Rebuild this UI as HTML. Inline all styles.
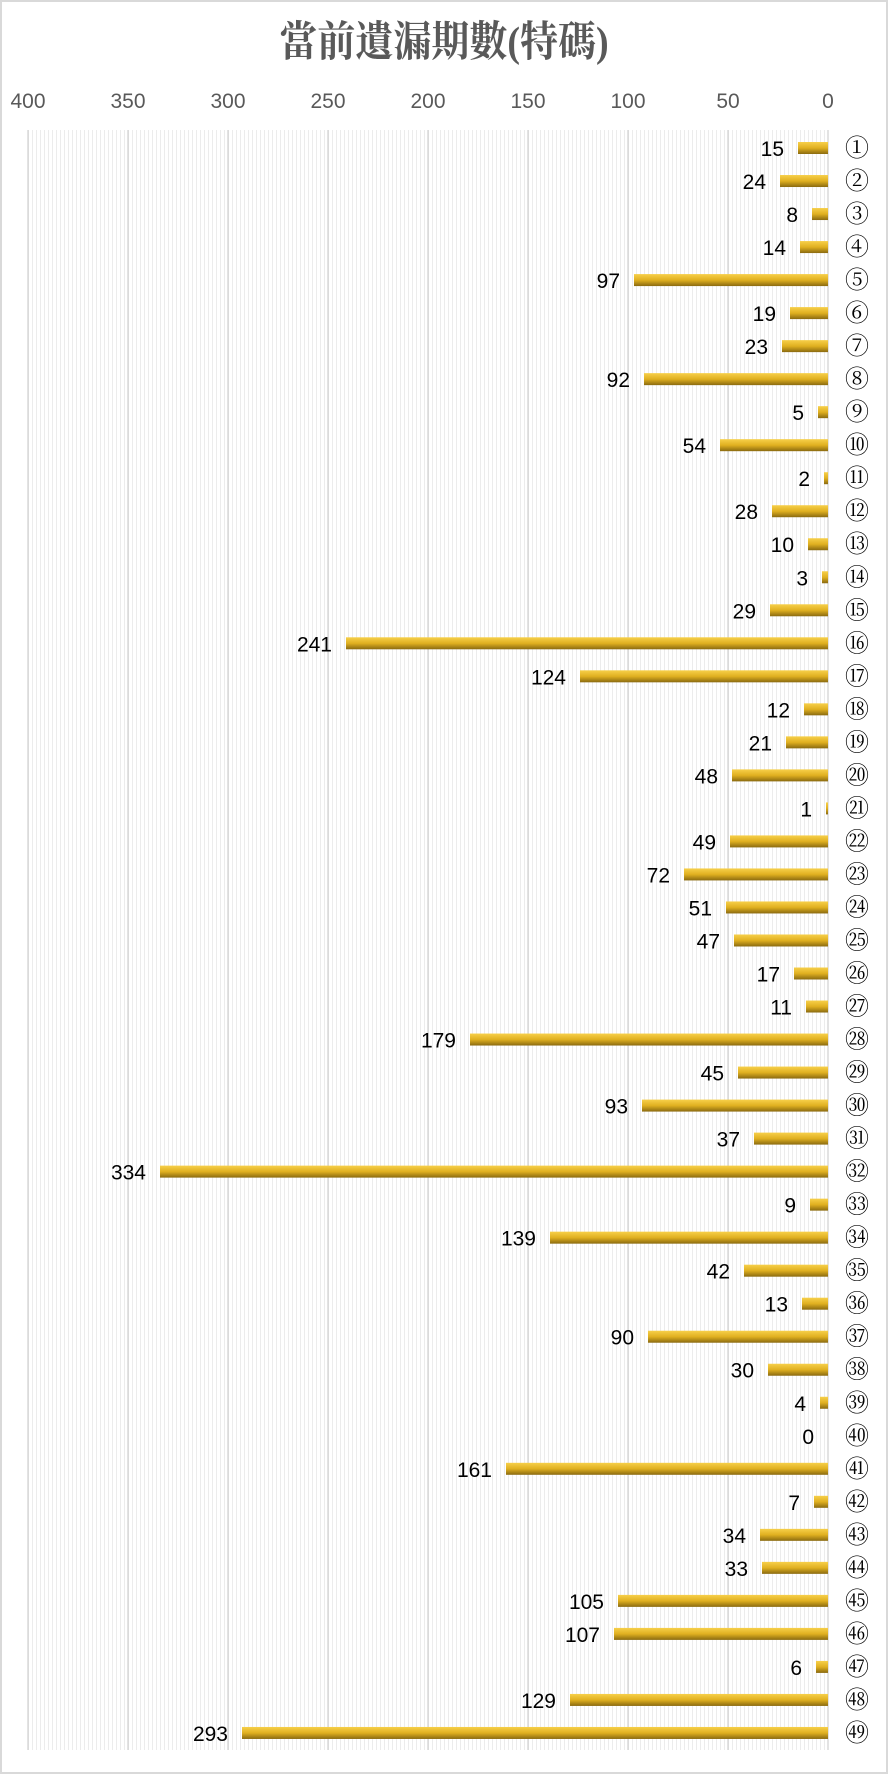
<!DOCTYPE html>
<html><head><meta charset="utf-8"><style>
body{margin:0;background:#fff}
svg{display:block}
</style></head><body>
<svg width="888" height="1774" xmlns="http://www.w3.org/2000/svg">
<defs>
<linearGradient id="g" x1="0" y1="0" x2="0" y2="1">
<stop offset="0" stop-color="#f7d04a"/><stop offset="0.5" stop-color="#e0b020"/><stop offset="1" stop-color="#8a6a10"/>
</linearGradient>
<pattern id="p" width="4" height="10" patternUnits="userSpaceOnUse">
<rect width="4" height="10" fill="#fff"/><rect width="1" height="10" fill="#ececec"/>
</pattern>
</defs>
<rect x="1" y="1" width="886" height="1772" fill="#fff" stroke="#d9d9d9" stroke-width="2"/>
<text x="444" y="54" text-anchor="middle" font-family="'Liberation Serif','Noto Serif CJK SC',serif" font-weight="bold" font-size="38" fill="#595959" transform="translate(444 0) scale(1 1.1) translate(-444 -3)">當前遺漏期數(特碼)</text>
<rect x="28" y="130" width="800" height="1620" fill="url(#p)"/>
<g stroke="#d0d0d0" stroke-width="1.2" id="grid"></g>
<g id="ticks" font-family="'Liberation Sans',sans-serif" font-size="21" fill="#595959" text-anchor="middle"></g>
<g id="bars"></g>
</svg>
<script>
var d=[15,24,8,14,97,19,23,92,5,54,2,28,10,3,29,241,124,12,21,48,1,49,72,51,47,17,11,179,45,93,37,334,9,139,42,13,90,30,4,0,161,7,34,33,105,107,6,129,293];
var ns="http://www.w3.org/2000/svg";
function el(t,a,txt){var e=document.createElementNS(ns,t);for(var k in a)e.setAttribute(k,a[k]);if(txt!=null)e.textContent=txt;return e;}
var g=document.getElementById('grid'),tk=document.getElementById('ticks'),b=document.getElementById('bars');
for(var v=0;v<=400;v+=50){var x=828-v*2;g.appendChild(el('line',{x1:x,y1:130,x2:x,y2:1750}));tk.appendChild(el('text',{x:x,y:108},String(v)));}
for(var i=0;i<49;i++){var y=148+i*33.02,w=d[i]*2;
if(w>0)b.appendChild(el('rect',{x:828-w,y:y-6,width:w,height:12,fill:'url(#g)'}));
b.appendChild(el('text',{x:828-w-14,y:y+8,'text-anchor':'end','font-family':"'Liberation Sans',sans-serif",'font-size':21,fill:'#000'},String(d[i])));
b.appendChild(el('text',{x:857,y:y+8,'text-anchor':'middle','font-family':"'Liberation Serif','Noto Serif CJK SC',serif",'font-size':24,fill:'#000'},String.fromCharCode(i<20?0x2460+i:(i<35?0x3251+i-20:0x32B1+i-35))));}
</script>
</body></html>
